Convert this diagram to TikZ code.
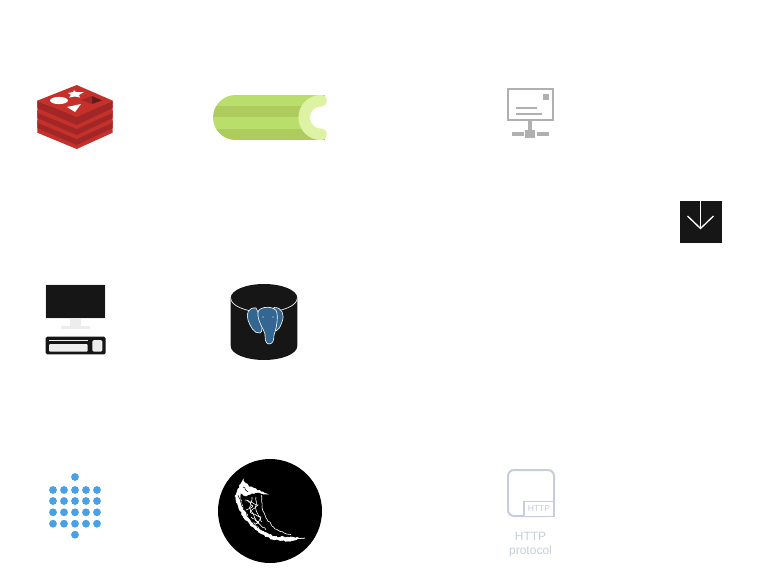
\documentclass[tikz,border=0pt]{standalone}
\usepackage{fontspec}
\setmainfont{Liberation Sans}
\usetikzlibrary{decorations.pathmorphing}
\definecolor{redisred}{HTML}{C6302B}
\definecolor{redisdark}{HTML}{A02725}
\definecolor{redisdeep}{HTML}{621B1C}
\definecolor{celerylight}{HTML}{B9DE6B}
\definecolor{celerydark}{HTML}{AECB5D}
\definecolor{celeryring}{HTML}{DDF3A3}
\definecolor{mailgray}{HTML}{B0B0B0}
\definecolor{iconblack}{HTML}{161616}
\definecolor{screenedge}{HTML}{EDEDED}
\definecolor{pgblue}{HTML}{336791}
\definecolor{dotblue}{HTML}{4A9FE5}
\definecolor{httpgray}{HTML}{C5CEDA}
\tikzset{
  redislayer/.style={fill=redisdark},
  redistop/.style={fill=redisred},
  mailpart/.style={fill=mailgray},
  screenpart/.style={fill=screenedge},
  horn/.style={draw=white, line width=0.6pt, decorate, decoration={random steps, segment length=2pt, amplitude=0.7pt}},
  hornfleck/.style={draw=black, line width=0.5pt, decorate, decoration={random steps, segment length=2pt, amplitude=0.8pt}},
  httplabel/.style={text=httpgray, font=\fontsize{12}{12}\selectfont, inner sep=0pt},
}
\begin{document}
\begin{tikzpicture}[x=1pt, y=-1pt]
  \useasboundingbox (0,0) rectangle (761,581);
  % redis
  \foreach \dy in {20,10,0} {
    \fill[redistop] (37.3,100.7+\dy) -- (76.7,117+\dy) -- (112.7,100.7+\dy) -- (112.7,112.7+\dy)
      -- (76.7,129+\dy) -- (37.3,112.7+\dy) -- cycle;
    \fill[redislayer] (37.3,100.7+\dy) -- (76.7,117+\dy) -- (112.7,100.7+\dy) -- (112.7,108+\dy)
      -- (76.7,125+\dy) -- (37.3,108+\dy) -- cycle;
    \fill[redistop] (37.3,100.7+\dy) -- (76.7,85+\dy) -- (112.7,100.7+\dy) -- (76.7,117+\dy) -- cycle;
  }
  \fill[white] (59,100.5) ellipse (9 and 3.6);
  \fill[white] (67,107) -- (81,104) -- (75,112) -- cycle;
  \fill[white] (74,90) -- (76,92) -- (84,92) -- (79,95) -- (80,97.5) -- (75,96.5) -- (69,97.5) -- (71,95) -- (68,93) -- (73,92) -- cycle;
  \fill[redisdeep] (92,96) -- (102,100.5) -- (92,104) -- cycle;
  \fill[redisdark] (81,100) -- (92,96) -- (92,104) -- cycle;
  % celery
  \begin{scope}
    \clip (235.5,95) arc (270:90:22.5) -- (325,140) -- (325,95) -- cycle;
    \fill[celerylight] (212,95) rectangle (325,106);
    \fill[celerydark] (212,106) rectangle (325,117.3);
    \fill[celerylight] (212,117.3) rectangle (325,128.7);
    \fill[celerydark] (212,128.7) rectangle (325,140);
  \end{scope}
  \fill[white] (321,100.7) arc (270:90:16.8) -- (330,134.3) -- (330,100.7) -- cycle;
  \draw[celeryring, line width=11.5pt, line cap=round] (321,100.7) arc (270:90:16.8);
  % mail
  \draw[mailgray, line width=2pt] (508.3,89.3) rectangle (553,119.5);
  \fill[mailpart] (542.7,93.7) rectangle (548.7,100.3);
  \fill[mailpart] (516,107.4) rectangle (536.7,109.4);
  \fill[mailpart] (516,113.3) rectangle (541.7,115.3);
  \fill[mailpart] (528.3,120) rectangle (532.3,130);
  \fill[mailpart] (525,130) rectangle (535,137.7);
  \fill[mailpart] (512.3,132.3) rectangle (524,136);
  \fill[mailpart] (537.3,132.3) rectangle (548.7,136);
  % download
  \fill[iconblack] (680,200.5) rectangle (721.5,242.5);
  \draw[white, line width=1.3pt] (700.5,199) -- (700.5,228);
  \draw[white, line width=1.3pt] (687.5,216) -- (700.5,228.5) -- (713.5,216);
  % desktop
  \fill[iconblack] (45.7,284) rectangle (105.7,318.3);
  \draw[screenedge, line width=0.8pt] (45.7,284) rectangle (105.7,318.3);
  \fill[screenpart] (70,318.7) rectangle (80.7,325.5);
  \fill[screenpart] (61,325.5) rectangle (90,329);
  \fill[iconblack, rounded corners=1.5pt] (45.7,336.7) rectangle (105.7,354.3);
  \fill[screenpart] (49,339.5) rectangle (87.7,340.5);
  \fill[screenpart, rounded corners=1pt] (49,344) rectangle (87.7,351.7);
  \fill[screenpart, rounded corners=1.5pt] (92.3,340) rectangle (102.3,351.7);
  % postgres
  \fill[iconblack] (230.7,298) arc (180:360:33.3 and 14) -- (297.3,346) arc (0:180:33.3 and 14) -- cycle;
  \draw[screenedge, line width=0.7pt] (230.7,298) arc (180:0:33.3 and 14);
  \begin{scope}[draw=white, line width=0.6pt, fill=pgblue]
    \filldraw (256,308) .. controls (248,307) and (246,314) .. (248,320)
      .. controls (250,326) and (254,334) .. (260,333)
      .. controls (263,332) and (262,325) .. (262,320) -- (258,312) -- cycle;
    \filldraw (274,307.5) .. controls (282,307) and (285,315) .. (282,322)
      .. controls (280,328) and (278,330) .. (276,331) -- (272,320) -- cycle;
    \filldraw (258,312) .. controls (259,306) and (276,305) .. (277,313)
      .. controls (278,320) and (276,330) .. (274,335)
      .. controls (274,340) and (273,344) .. (269,344)
      .. controls (265,344) and (265,338) .. (265,334)
      .. controls (263,328) and (257,320) .. (258,312) -- cycle;
  \end{scope}
  \fill[white] (263,317) circle (0.7);
  \fill[white] (273,317) circle (0.7);
  % dots
  \fill[dotblue] (75,477) circle (3.9);
  \fill[dotblue] (75,534.7) circle (3.9);
  \foreach \cx in {53,64,75,86,97} {
    \foreach \cy in {490,501,512.3,523.7} {
      \fill[dotblue] (\cx,\cy) circle (3.9);
    }
  }
  % flask
  \fill[black] (270,511) circle (52);
  \fill[white, horn] (243,480.5) -- (238,489) -- (235,496) -- (238,505) -- (243,516) -- (251,526)
    -- (262,534) -- (272,539) -- (288,541) -- (305,538) -- (290,537.5) -- (274,536.5) -- (262,531)
    -- (250,520) -- (243,508) -- (240,497) -- cycle;
  \fill[white, horn] (243,480.5) -- (250,487) -- (267,494) -- (256,492) -- (246,496) -- (240,492) -- cycle;
  \draw[hornfleck] (238,495) -- (242,506) -- (248,517) -- (258,528);
  \draw[hornfleck] (243,487) -- (248,492);
  \draw[horn] (261,495) -- (262,507) -- (266,518) -- (275,529) -- (291,535);
  \draw[horn] (252,497) -- (250,508) -- (256,520) -- (266,530);
  \draw[horn] (256,497) -- (256,510) -- (262,522);
  \draw[horn] (245,500) -- (258,505) -- (250,512) -- (261,517) -- (256,524);
  \draw[horn] (247,500) -- (253,506) -- (246,510);
  \draw[horn] (251,517) -- (259,523) -- (254,523);
  % http
  \draw[httpgray, line width=2pt, rounded corners=6pt] (508,470) rectangle (554,516);
  \filldraw[fill=white, draw=httpgray, line width=1.5pt] (524,501.5) rectangle (554,516.5);
  \node[text=httpgray, font=\fontsize{8.5}{8.5}\selectfont, inner sep=0pt] (httptag) at (539,509) {HTTP};
  \node[httplabel] (httpname) at (530.5,536.5) {HTTP};
  \node[httplabel] (httpsub) at (530.5,551) {protocol};
\end{tikzpicture}
\end{document}
